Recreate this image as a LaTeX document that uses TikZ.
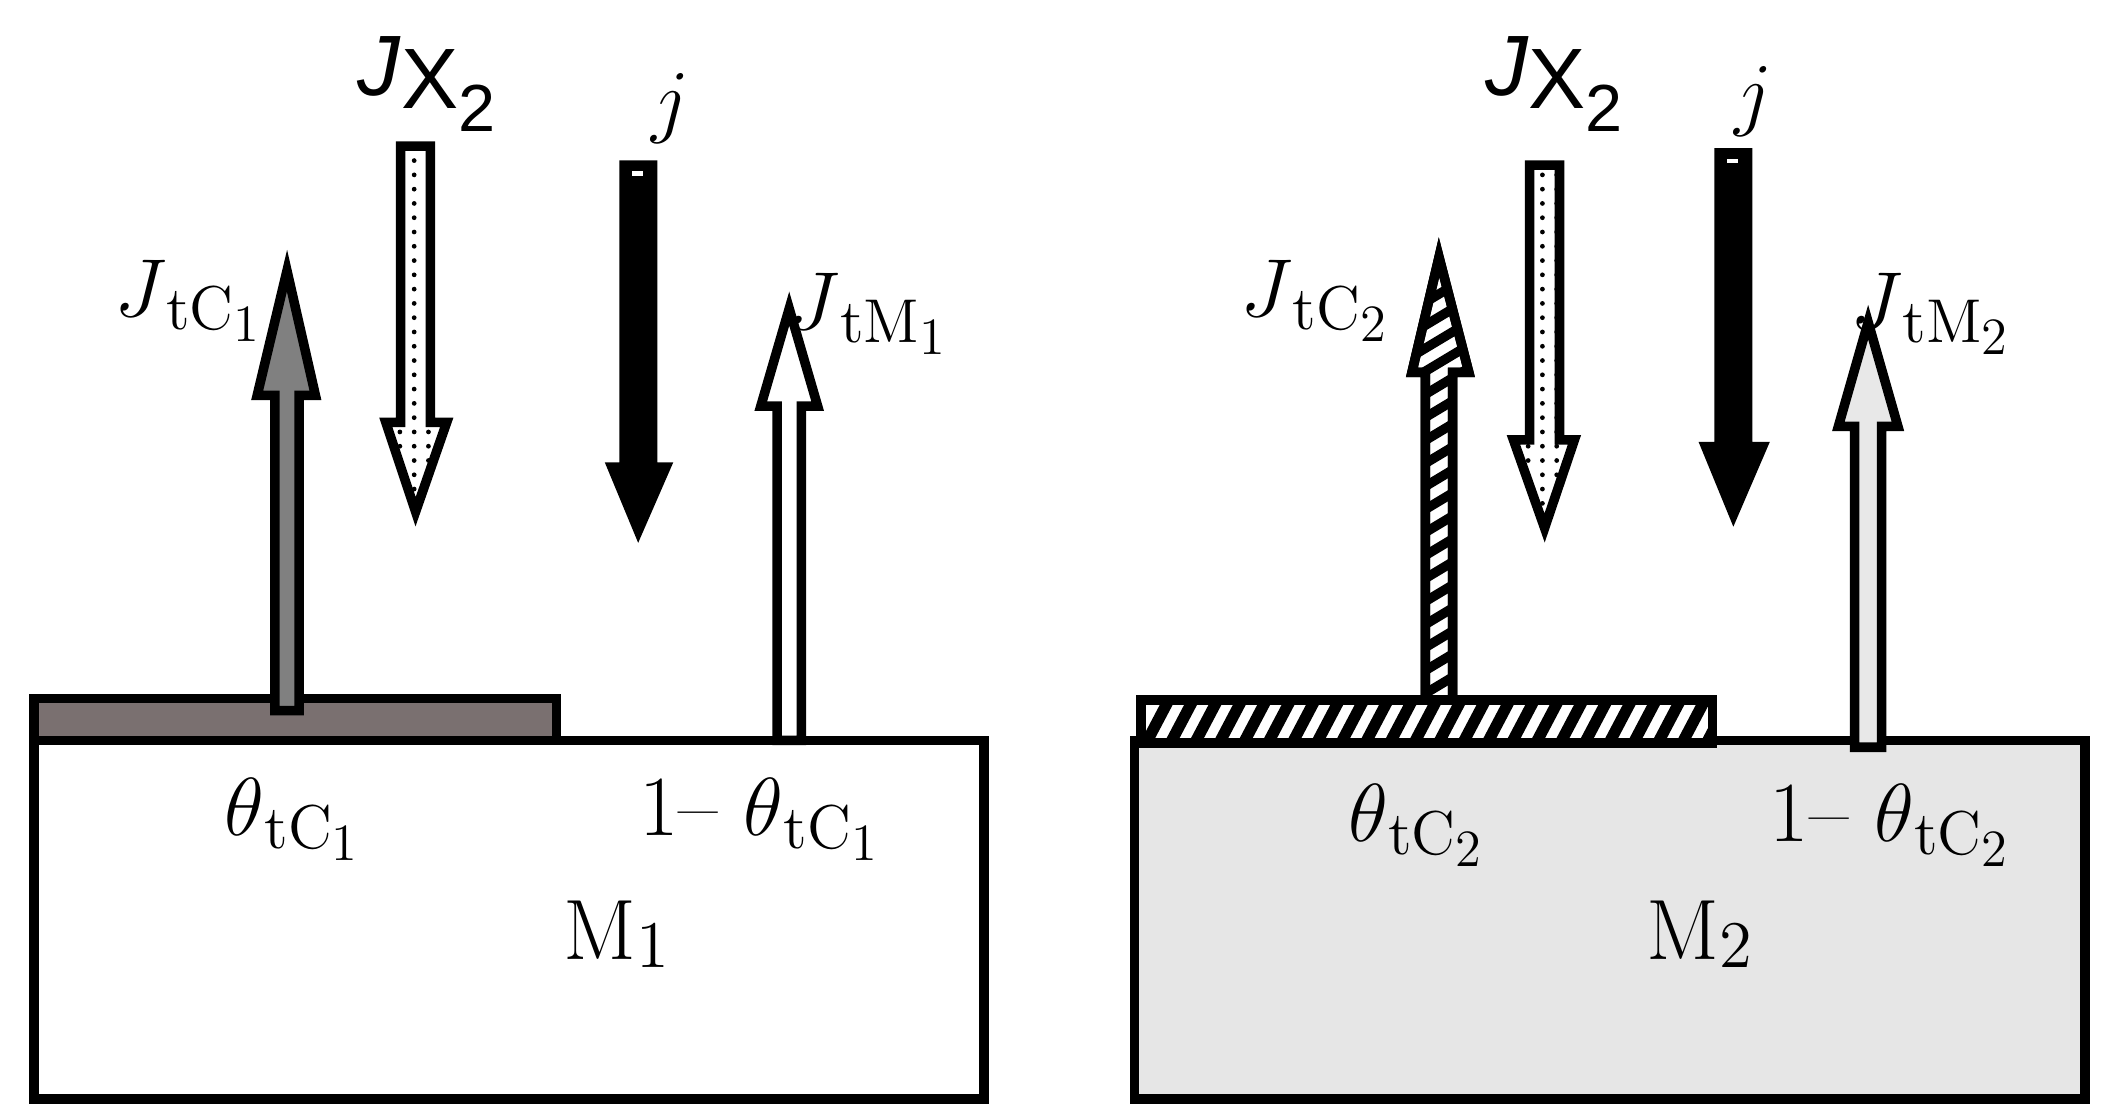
\documentclass[tikz,border=0pt]{standalone}
\usepackage{fontspec}
\newfontfamily\sansf{Liberation Sans}
\usetikzlibrary{patterns}
\def\arr#1#2#3#4#5#6#7{(#1,#3) -- (#1,#4) -- (#5,#4) -- ({(#1+#2)/2},#7) -- (#6,#4) -- (#2,#4) -- (#2,#3) -- cycle}
\newcommand\sbs[2]{\raisebox{-0.35ex}{\fontsize{13}{15}\selectfont #1\raisebox{-0.45ex}{\fontsize{11}{13}\selectfont #2}}}
\tikzset{ol/.style={draw=black,line width=2pt,line join=miter},
 lbl/.style={font=\fontsize{18}{22}\selectfont,inner sep=0pt},
 slbl/.style={font=\sansf\fontsize{18}{22}\selectfont,inner sep=0pt}}
\begin{document}
\begin{tikzpicture}
\useasboundingbox (0,0) rectangle (15.6,8.25);
\fill[white] (0,0) rectangle (15.6,8.25);
\begin{scope}[shift={(0,8.25)},x=0.01cm,y=-0.01cm]
% left panel
\draw[ol,fill=white] (25,547) rectangle (727,812);
\draw[ol,fill={rgb,255:red,122;green,112;blue,112}] (25,516) rectangle (411,547);
\draw[ol,fill=gray] \arr{203}{221}{525}{292}{190}{233}{200};
\draw[ol,fill=white] \arr{296}{318}{108}{312}{285}{330}{378};
\fill[pattern=dots] \arr{296}{318}{108}{312}{285}{330}{378};
\draw[ol,fill=black] \arr{461}{482}{122}{345}{452}{492}{392};
\draw[white,line width=1pt] (467,128) -- (475,128);
\draw[ol,fill=white] \arr{574}{592}{547}{300}{562}{604}{228};
\node[slbl] (jx1) at (315,62) {\textit{J}\raisebox{-0.3ex}{X\raisebox{-0.5ex}{\fontsize{14}{16}\selectfont 2}}};
\node[lbl] (j1) at (495,80) {$j$};
\node[lbl] (jtc1) at (138,222) {$J$\sbs{tC}{1}};
\node[lbl] (jtm1) at (640,232) {$J$\sbs{tM}{1}};
\node[lbl] (th1) at (215,605) {$\theta$\sbs{tC}{1}};
\node[lbl] (oth1) at (560,605) {1-- $\theta$\sbs{tC}{1}};
\node[lbl] (m1) at (455,690) {M\raisebox{-0.2ex}{\fontsize{14}{16}\selectfont 1}};
% right panel
\draw[ol,fill={rgb,255:red,230;green,230;blue,230}] (838,547) rectangle (1540,812);
\draw[ol,fill=white] (843,517) rectangle (1265,549);
\begin{scope}
\clip (843,517) rectangle (1265,549);
\foreach \i in {0,...,24} \draw[line width=2.4pt] ({845+\i*18},552) -- ({865+\i*18},514);
\end{scope}
\draw[ol] (843,517) rectangle (1265,549);
\draw[ol,fill=white] \arr{1053}{1073}{517}{275}{1043}{1085}{190};
\begin{scope}
\clip \arr{1053}{1073}{517}{275}{1043}{1085}{190};
\foreach \i in {0,...,20} \draw[line width=2pt] (1040,{520-\i*17}) -- (1090,{490-\i*17});
\end{scope}
\draw[ol] \arr{1053}{1073}{517}{275}{1043}{1085}{190};
\draw[ol,fill=white] \arr{1130}{1152}{122}{325}{1118}{1163}{390};
\fill[pattern=dots] \arr{1130}{1152}{122}{325}{1118}{1163}{390};
\draw[ol,fill=black] \arr{1270}{1291}{113}{330}{1260}{1302}{380};
\draw[white,line width=1pt] (1276,119) -- (1284,119);
\draw[ol,fill={rgb,255:red,232;green,232;blue,232}] \arr{1370}{1390}{552}{315}{1358}{1402}{238};
\node[slbl] (jx2) at (1148,62) {\textit{J}\raisebox{-0.3ex}{X\raisebox{-0.5ex}{\fontsize{14}{16}\selectfont 2}}};
\node[lbl] (j2) at (1295,75) {$j$};
\node[lbl] (jtc2) at (970,222) {$J$\sbs{tC}{2}};
\node[lbl] (jtm2) at (1425,232) {$J$\sbs{tM}{2}};
\node[lbl] (th2) at (1045,610) {$\theta$\sbs{tC}{2}};
\node[lbl] (oth2) at (1395,610) {1-- $\theta$\sbs{tC}{2}};
\node[lbl] (m2) at (1255,690) {M\raisebox{-0.2ex}{\fontsize{14}{16}\selectfont 2}};
\end{scope}
\end{tikzpicture}
\end{document}
